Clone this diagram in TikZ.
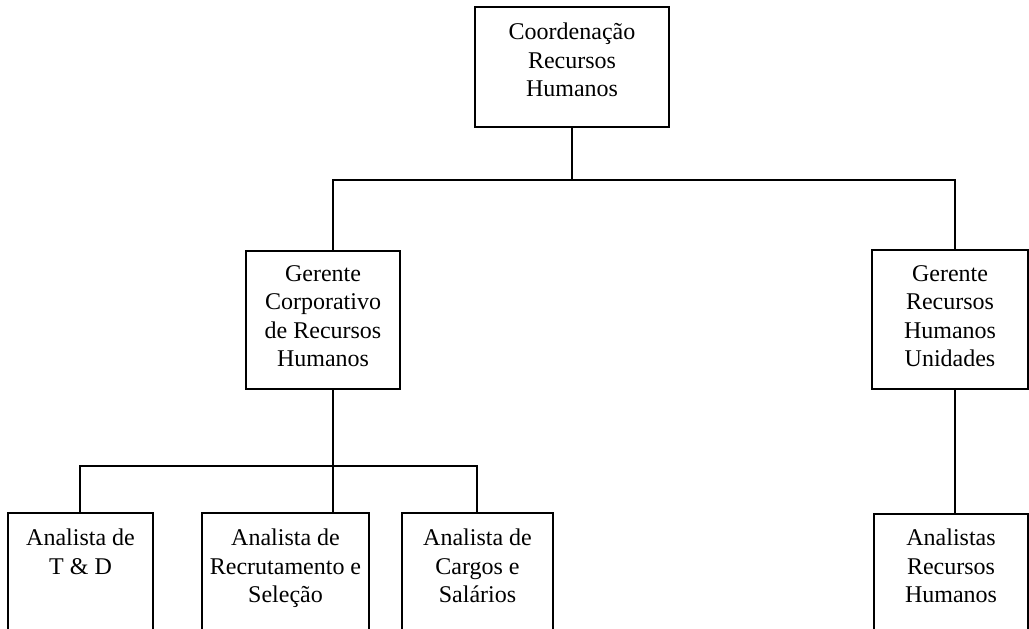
\documentclass[tikz,border=0pt]{standalone}
\usepackage{fontspec}
\setmainfont{Liberation Serif}
\begin{document}
\begin{tikzpicture}[x=1pt, y=-1pt,
  box/.style={draw, line width=1.3pt, inner sep=0pt},
  lbl/.style={anchor=north, inner sep=0pt, align=center,
    font=\fontsize{24}{28.5}\selectfont},
  wire/.style={line width=1.3pt}]
\clip (0,0) rectangle (1029,629);
\fill[white] (0,0) rectangle (1029,629);

% boxes
\node[box, minimum width=194pt, minimum height=120pt] (coord) at (572,67) {};
\node[box, minimum width=154pt, minimum height=138pt] (gcorp) at (323,320) {};
\node[box, minimum width=156pt, minimum height=139pt] (gunid) at (950,319.5) {};
\node[box, minimum width=145pt, minimum height=150pt] (td)  at (80.5,588) {};
\node[box, minimum width=167pt, minimum height=150pt] (rs)  at (285.5,588) {};
\node[box, minimum width=151pt, minimum height=150pt] (cs)  at (477.5,588) {};
\node[box, minimum width=154pt, minimum height=150pt] (arh) at (951,589) {};

% labels
\node[lbl] (coordT) at (572,23) {Coordenação\\Recursos\\Humanos};
\node[lbl] (gcorpT) at (323,265) {Gerente\\Corporativo\\de Recursos\\Humanos};
\node[lbl] (gunidT) at (950,265) {Gerente\\Recursos\\Humanos\\Unidades};
\node[lbl] (tdT)  at (80.5,529) {Analista de\\T \& D};
\node[lbl] (rsT)  at (285.5,529) {Analista de\\Recrutamento e\\Seleção};
\node[lbl] (csT)  at (477.5,529) {Analista de\\Cargos e\\Salários};
\node[lbl] (arhT) at (951,529) {Analistas\\Recursos\\Humanos};

% bus points
\coordinate (busA) at (572,180);
\coordinate (busAL) at (333,180);
\coordinate (busAR) at (955,180);
\coordinate (busB) at (333,466);
\coordinate (busBL) at (80,466);
\coordinate (busBR) at (477,466);

% connectors
\draw[wire] (coord.south) -- (busA);
\draw[wire] (gcorp.north -| busAL) -- (busAL) -- (busAR) -- (gunid.north -| busAR);
\draw[wire] (gcorp.south -| busB) -- (busB);
\draw[wire] (td.north -| busBL) -- (busBL) -- (busBR) -- (cs.north -| busBR);
\draw[wire] (rs.north -| busB) -- (busB);
\draw[wire] (gunid.south -| busAR) -- (arh.north -| busAR);
\end{tikzpicture}
\end{document}
